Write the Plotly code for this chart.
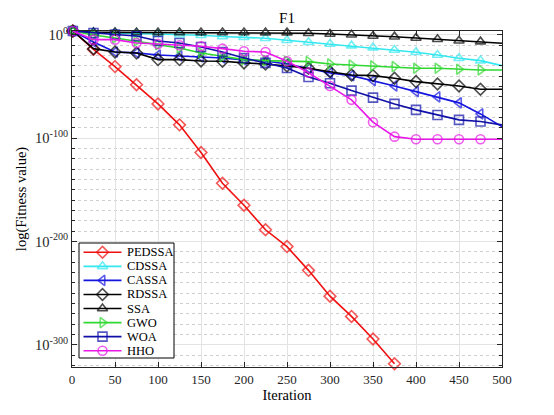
import plotly.graph_objects as go

# iteration at which every marker sits (the last point carries only the line)
iterations = [1, 25, 50, 75, 100, 125, 150, 175, 200, 225, 250,
              275, 300, 325, 350, 375, 400, 425, 450, 475, 500]

# log10 of the best fitness
log_pedssa = [3.8, -14.0, -30.7, -48.3, -66.8, -87.1, -113.9, -143.6, -165.0, -188.7,
              -205.0, -228.0, -253.0, -272.6, -294.5, -318.4]
log_cdssa = [3.8, 2.4, 1.9, 1.4, 0.9, 0.2, -0.3, -1.5, -2.3, -3.2, -5.2,
             -7.1, -8.8, -10.4, -12.3, -14.6, -16.8, -19.4, -22.6, -24.9, -29.8]
log_cassa = [3.8, -6.8, -16.5, -17.4, -19.4, -20.3, -21.3, -22.3, -24.2, -25.2, -28.1,
             -32.5, -36.8, -39.4, -44.2, -49.4, -54.9, -60.0, -65.8, -76.5, -88.8]
log_rdssa = [3.8, -13.3, -16.5, -17.5, -23.9, -23.9, -25.2, -25.5, -27.1, -28.1, -30.1,
             -32.3, -35.6, -38.8, -39.4, -41.9, -45.2, -47.5, -49.4, -52.6, -52.6]
log_ssa = [3.8, 2.5, 2.5, 2.4, 2.4, 2.4, 2.4, 2.3, 2.3, 2.2, 2.2,
           1.6, 0.9, 0.2, -1.0, -1.7, -3.0, -4.2, -5.6, -6.5, -8.1]
log_gwo = [3.8, 0.0, -2.9, -5.8, -9.4, -12.6, -17.5, -20.7, -23.9, -24.9, -25.5,
           -25.9, -28.1, -29.1, -30.0, -30.7, -32.3, -32.3, -33.2, -33.9, -33.9]
log_woa = [3.8, 1.9, 0.4, -1.0, -5.9, -7.8, -11.7, -16.5, -22.3, -27.1, -32.0,
           -40.7, -46.8, -53.9, -60.7, -66.8, -72.6, -77.5, -82.3, -83.9, -87.1]
log_hho = [3.8, -4.6, -4.6, -7.8, -8.8, -10.0, -11.0, -13.3, -15.8, -16.5, -25.5,
           -36.5, -49.4, -62.9, -84.5, -98.5, -101.0, -101.0, -101.0, -101.0, -101.0]

names = ['PEDSSA', 'CDSSA', 'CASSA', 'RDSSA', 'SSA', 'GWO', 'WOA', 'HHO']
series = [log_pedssa, log_cdssa, log_cassa, log_rdssa, log_ssa, log_gwo, log_woa, log_hho]
colors = ['#F01010', '#33E8F0', '#1515E0', '#000000', '#000000', '#30D830', '#1010A8', '#E818E8']
symbols = ['diamond-open', 'triangle-up-open', 'triangle-left-open', 'diamond-open',
           'triangle-up-open', 'triangle-right-open', 'square-open', 'circle-open']

# the page body has an 8px margin, so the figure is shrunk and everything is shifted by it
OFF = 8
W, H = 554 - OFF, 415 - OFF
# plot area in page pixels
PL, PR, PT, PB = 72, 502, 31, 367
font = 'Liberation Serif, Times New Roman, serif'
axis_col = '#262626'
MS = 9


def px2paper(px, py):
    return (px - PL) / (PR - PL), (PB - py) / (PB - PT)


fig = go.Figure()
for name, vals, col, sym in zip(names, series, colors, symbols):
    n = len(vals)
    sizes = [MS] * n
    if n == len(iterations):
        sizes[-1] = 0  # no marker at iteration 500
    fig.add_trace(go.Scatter(
        x=iterations[:n], y=[10.0 ** v for v in vals],
        mode='lines+markers', name=name, showlegend=False, cliponaxis=False,
        line=dict(color=col, width=1.6),
        marker=dict(symbol=sym, size=sizes, color=col, line=dict(color=col, width=1.6)),
    ))

# legend drawn by hand (MATLAB-style compact rows) on an overlay axis in paper units
box_l, box_t = px2paper(79, 243)
box_r, box_b = px2paper(174, 358)
fig.add_trace(go.Scatter(
    x=[box_l, box_r, box_r, box_l, box_l], y=[box_b, box_b, box_t, box_t, box_b],
    xaxis='x2', yaxis='y2', mode='lines', fill='toself', fillcolor='white',
    line=dict(color='black', width=1), showlegend=False, hoverinfo='skip'))
row0, step = 252.3, 14.06
for i, (name, col, sym) in enumerate(zip(names, colors, symbols)):
    ry = row0 + i * step
    x0, y0 = px2paper(83.5, ry)
    x1, _ = px2paper(121.5, ry)
    fig.add_trace(go.Scatter(
        x=[x0, (x0 + x1) / 2, x1], y=[y0, y0, y0], xaxis='x2', yaxis='y2',
        mode='lines+markers', showlegend=False, hoverinfo='skip', cliponaxis=False,
        line=dict(color=col, width=1.6),
        marker=dict(symbol=sym, size=[0, MS, 0], color=col, line=dict(color=col, width=1.6))))
    tx, ty = px2paper(124.5, ry)
    fig.add_annotation(x=tx, y=ty, xref='paper', yref='paper', text=name, showarrow=False,
                       xanchor='left', yanchor='middle',
                       font=dict(family=font, size=12.5, color='black'))

fig.update_layout(
    width=W, height=H,
    margin=dict(l=PL - OFF, r=554 - PR, t=PT - OFF, b=415 - PB),
    paper_bgcolor='white', plot_bgcolor='white',
    font=dict(family=font, size=12.5, color=axis_col),
    title=dict(text='F1', x=(287 - OFF) / W, xanchor='center', y=1 - (18 - OFF) / H,
               yanchor='middle', font=dict(family=font, size=15, color='black')),
    showlegend=False,
    xaxis2=dict(overlaying='x', range=[0, 1], visible=False, fixedrange=True),
    yaxis2=dict(overlaying='y', range=[0, 1], visible=False, fixedrange=True, anchor='x2'),
)

fig.layout.xaxis.update(
    range=[0, 500], tickmode='linear', tick0=0, dtick=50, automargin=False,
    ticks='inside', ticklen=5, tickcolor=axis_col,
    showline=True, linecolor=axis_col, linewidth=1, mirror='ticks',
    showgrid=True, gridcolor='#E3E3E3', gridwidth=1, zeroline=False,
    tickfont=dict(family=font, size=13, color=axis_col),
    title=dict(text='Iteration', standoff=4, font=dict(family=font, size=14.5, color='black')),
)
fig.layout.yaxis.update(
    type='log', range=[-321.6, 3.8], automargin=False,
    tickmode='array',
    tickvals=[1e-300, 1e-200, 1e-100, 1.0],
    ticktext=['10<sup>-300</sup>', '10<sup>-200</sup>', '10<sup>-100</sup>', '10<sup>0</sup>'],
    ticks='inside', ticklen=5, tickcolor=axis_col,
    tickfont=dict(family=font, size=14.5, color=axis_col),
    minor=dict(tickmode='array', tickvals=[10.0 ** k for k in range(-320, 1, 10)],
               ticks='inside', ticklen=3, tickcolor=axis_col,
               showgrid=True, gridcolor='#CFCFCF', griddash='dot', gridwidth=1),
    showline=True, linecolor=axis_col, linewidth=1, mirror='ticks',
    showgrid=True, gridcolor='#E3E3E3', gridwidth=1, zeroline=False,
    title=dict(text='log(Fitness value)', standoff=4, font=dict(family=font, size=14.5, color='black')),
)

fig.write_html('out.html')
